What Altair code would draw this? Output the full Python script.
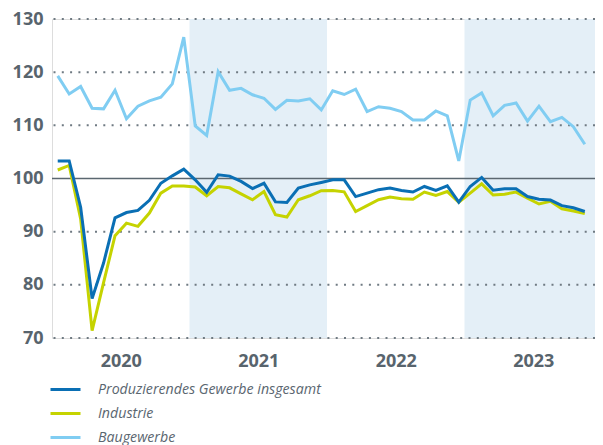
import altair as alt
import pandas as pd

years = ["2020", "2021", "2022", "2023"]
months = [f"{y}-{m:02d}" for y in years for m in range(1, 13)][:47]

produzierendes = [103.3, 103.3, 94.6, 77.4, 84.1, 92.6, 93.6, 94.0, 95.9, 99.1, 100.5, 101.75,
                  99.75, 97.4, 100.7, 100.45, 99.45, 98.1, 99.1, 95.6, 95.5, 98.2, 98.8, 99.25,
                  99.75, 99.75, 96.6, 97.25, 97.9, 98.2, 97.75, 97.45, 98.5, 97.75, 98.6, 95.55,
                  98.5, 100.2, 97.8, 98.05, 98.05, 96.6, 96.1, 95.95, 94.9, 94.5, 93.8]
industrie = [101.6, 102.45, 92.4, 71.4, 80.4, 89.25, 91.6, 91.0, 93.5, 97.25, 98.6, 98.6,
             98.4, 96.75, 98.5, 98.25, 97.1, 96.0, 97.55, 93.2, 92.75, 96.0, 96.75, 97.7,
             97.75, 97.5, 93.8, 94.9, 96.0, 96.5, 96.2, 96.1, 97.45, 96.8, 97.55, 95.55,
             97.25, 99.0, 96.9, 97.05, 97.45, 96.3, 95.2, 95.7, 94.3, 93.9, 93.4]
baugewerbe = [119.3, 115.9, 117.3, 113.2, 113.1, 116.6, 111.25, 113.6, 114.6, 115.3, 117.8, 126.6,
              109.9, 108.1, 120.1, 116.6, 116.95, 115.75, 115.1, 113.0, 114.7, 114.6, 115.0, 112.9,
              116.5, 115.8, 116.8, 112.6, 113.5, 113.2, 112.6, 111.0, 111.0, 112.7, 111.8, 103.3,
              114.75, 116.1, 111.8, 113.75, 114.2, 110.8, 113.6, 110.7, 111.5, 109.75, 106.45]

series_names = ["Produzierendes Gewerbe insgesamt", "Industrie", "Baugewerbe"]
series_colors = ["#0a6fb4", "#c5d300", "#80cdf2"]

shade_start = [12, 36]
shade_end = [24, 48]
grid_values = [70, 80, 90, 110, 120, 130]
ref_value = [100]

rows = []
for name, vals in zip(series_names, [produzierendes, industrie, baugewerbe]):
    for i, (m, v) in enumerate(zip(months, vals)):
        rows.append({"month": m, "t": i + 0.5, "value": v, "series": name})
df = pd.DataFrame(rows)

shade_df = pd.DataFrame({"start": shade_start, "end": shade_end})
grid_df = pd.DataFrame({"v": grid_values})
ref_df = pd.DataFrame({"v": ref_value})

W, H = 543, 319
xscale = alt.Scale(domain=[0, 47.39], nice=False, zero=False)
yscale = alt.Scale(domain=[70, 130], nice=False, zero=False)

label_color = "#58646d"

shade = alt.Chart(shade_df).mark_rect(color="#e4eff7", clip=True).encode(
    x=alt.X("start:Q", scale=xscale, title=None,
            axis=alt.Axis(values=[6, 18, 30, 42],
                          labelExpr="['2020','2021','2022','2023'][(datum.value-6)/12]",
                          grid=False, ticks=False, domain=False, labelPadding=14,
                          labelFontSize=18, labelFontWeight="bold", labelColor=label_color,
                          labelFont="Open Sans")),
    x2="end:Q",
    y=alt.datum(70, scale=yscale),
    y2=alt.datum(130),
)

grid = alt.Chart(grid_df).mark_rule(color="#6f7a82", strokeWidth=2, strokeDash=[2, 6.3]).encode(
    y=alt.Y("v:Q", scale=yscale, title=None,
            axis=alt.Axis(values=[70, 80, 90, 100, 110, 120, 130], grid=False, ticks=False,
                          domain=False, labelPadding=9, labelFontSize=18,
                          labelFontWeight="bold", labelColor=label_color,
                          labelFont="Open Sans")),
)

ref = alt.Chart(ref_df).mark_rule(color="#5b6770", strokeWidth=1.5).encode(
    y=alt.Y("v:Q", scale=yscale),
)

lines = alt.Chart(df).mark_line(strokeWidth=3, strokeJoin="miter").encode(
    x=alt.X("t:Q", scale=xscale),
    y=alt.Y("value:Q", scale=yscale),
    color=alt.Color("series:N",
                    scale=alt.Scale(domain=series_names, range=series_colors),
                    sort=series_names,
                    legend=alt.Legend(title=None, orient="none", legendX=-3, legendY=354,
                                      direction="vertical", symbolType="stroke",
                                      symbolSize=900, symbolStrokeWidth=3,
                                      labelFont="Open Sans", labelFontStyle="italic",
                                      labelFontSize=14.2, labelColor="#5a6670",
                                      labelOffset=16, rowPadding=-13, labelLimit=400)),
    order=alt.Order("t:Q"),
)

lines_ind = lines.transform_filter(alt.datum.series == "Industrie")
lines_bau = lines.transform_filter(alt.datum.series == "Baugewerbe")
lines_pro = lines.transform_filter(alt.datum.series == "Produzierendes Gewerbe insgesamt")

chart = alt.layer(shade, grid, ref, lines_bau, lines_ind, lines_pro).properties(
    width=W, height=H,
    autosize=alt.AutoSizeParams(type="none"),
    padding={"left": 44, "top": 11, "right": 0, "bottom": 112},
).configure_view(stroke=None).configure(font="Open Sans")

chart.save("out.html", embed_options={"renderer": "svg", "actions": False})
